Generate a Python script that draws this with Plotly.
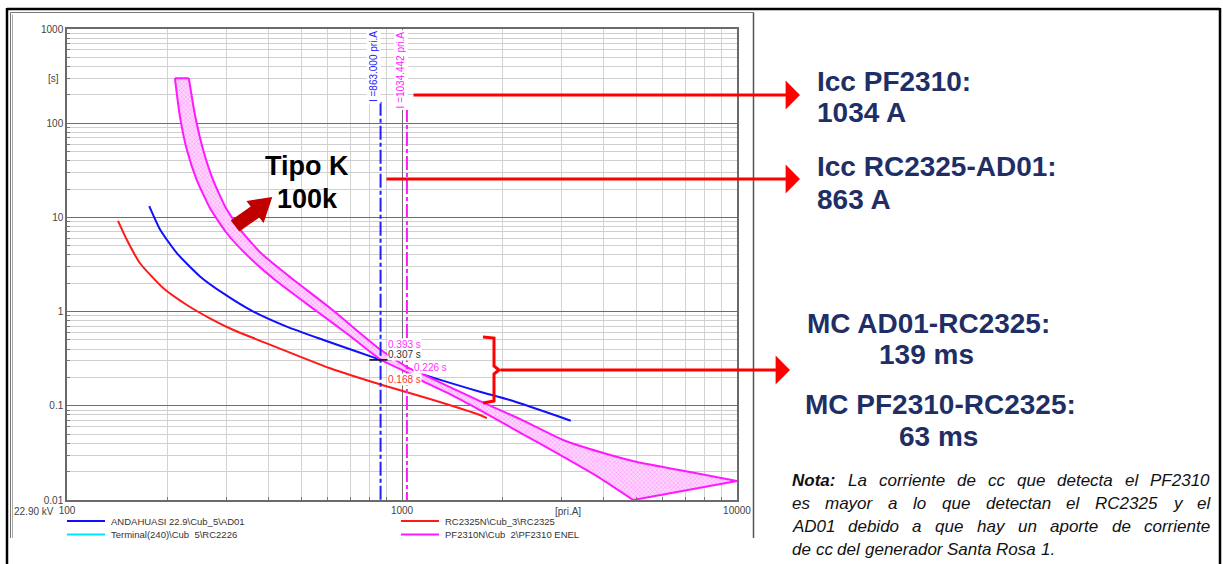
import math
import plotly.graph_objects as go

# ---------------------------------------------------------------------------
# Time-current characteristics (current in primary A, time in s)
# ---------------------------------------------------------------------------
ad01_I = [176, 190, 213, 250, 293, 360, 453, 583, 863, 1212, 1709, 2100, 3190]
ad01_t = [13.2, 7.35, 4.16, 2.35, 1.56, 1.0, 0.692, 0.50, 0.307, 0.204, 0.141, 0.115, 0.0695]

rc2325_I = [142, 151, 165, 194, 228, 267, 314, 368, 610, 863, 1212, 1709, 1793]
rc2325_t = [9.2, 5.75, 3.28, 1.77, 1.175, 0.849, 0.638, 0.508, 0.25, 0.168, 0.118, 0.0798, 0.074]

# PF2310 fuse, Tipo K 100k: total clearing curve and minimum melting curve
pf_tc_I = [231, 241, 255, 273, 298, 333, 382, 463, 610, 863, 1035, 1132, 1390, 1709, 2250, 3025, 3900, 5030, 7240, 10000]
pf_tc_t = [300, 122, 51.9, 24.9, 12.6, 7.0, 4.08, 2.33, 1.09, 0.393, 0.258, 0.223, 0.158, 0.112, 0.0724, 0.0434, 0.0323, 0.0253, 0.0198, 0.0159]
pf_mm_I = [210, 217, 228, 244, 267, 298, 342, 418, 550, 700, 863, 1034, 1132, 1390, 1709, 2250, 2963, 3900, 4900]
pf_mm_t = [300, 122, 51.9, 24.9, 12.6, 7.0, 4.08, 2.165, 1.04, 0.551, 0.31, 0.226, 0.188, 0.133, 0.090, 0.052, 0.0301, 0.0171, 0.01]

# Short-circuit currents seen by each device and the read-off times
icc_rc2325 = 863.000
icc_pf2310 = 1034.442
times_at_icc = [  # (current, time, colour, text)
    (icc_rc2325, 0.393, "#ff33ff", "0.393 s"),
    (icc_rc2325, 0.307, "#333333", "0.307 s"),
    (icc_pf2310, 0.226, "#ff33ff", "0.226 s"),
    (icc_rc2325, 0.168, "#ff3333", "0.168 s"),
]

legend_items = [  # (name, colour, column, row)
    ("ANDAHUASI 22.9\\Cub_5\\AD01", "#1010ff", 0, 0),
    ("Terminal(240)\\Cub\u00a0\u00a05\\RC2226", "#00e5ff", 0, 1),
    ("RC2325N\\Cub_3\\RC2325", "#ff1a1a", 1, 0),
    ("PF2310N\\Cub\u00a0\u00a02\\PF2310 ENEL", "#ff19ff", 1, 1),
]

x_ticks = [100, 1000, 10000]
y_ticks = [0.01, 0.1, 1, 10, 100, 1000]
y_ticktext = ["0.01", "0.1", "1", "10", "100", "1000"]

# ---------------------------------------------------------------------------
W, H = 1223, 564
X0, X1, Y0, Y1 = 67, 737, 29, 500          # plot area (pixels)


def px(x):
    return (x - X0) / (X1 - X0)


def py(y):
    return (Y1 - y) / (Y1 - Y0)


FONT = "Liberation Sans"
NAVY = "#1f2f66"
FUSE = "#ff19ff"

fig = go.Figure()


def curve(x, y, color, width=2, shape="spline", smoothing=0.6, dash=None):
    fig.add_trace(go.Scatter(x=x, y=y, mode="lines",
                             line=dict(color=color, width=width, shape=shape, smoothing=smoothing, dash=dash),
                             showlegend=False, hoverinfo="skip"))


# relay curves
curve(ad01_I, ad01_t, "#1010ff")
curve(rc2325_I, rc2325_t, "#ff1a1a")

# fuse band: hatched area between the two curves
band_I = pf_tc_I + pf_mm_I[::-1]
band_t = pf_tc_t + pf_mm_t[::-1]
fig.add_trace(go.Scatter(x=band_I, y=band_t, mode="lines", fill="toself",
                         line=dict(width=0, color=FUSE),
                         fillcolor="#ffc8ff",
                         fillpattern=dict(shape="x", size=3, solidity=0.25, fgcolor="#ff7dff",
                                          bgcolor="#ffd6ff", fillmode="replace"),
                         showlegend=False, hoverinfo="skip"))
# band outline: the two curves plus the top and bottom closing segments
curve(pf_tc_I, pf_tc_t, FUSE, smoothing=0.5)
curve(pf_mm_I, pf_mm_t, FUSE, smoothing=0.5)
curve([pf_mm_I[0], pf_tc_I[0]], [pf_mm_t[0], pf_tc_t[0]], FUSE, shape="linear")
curve([pf_tc_I[-1], pf_mm_I[-1]], [pf_tc_t[-1], pf_mm_t[-1]], FUSE, shape="linear")

# short-circuit current markers
curve([icc_rc2325, icc_rc2325], [169, 0.01], "#2020ff", shape="linear", dash="14px,3px,4px,3px")
curve([icc_pf2310, icc_pf2310], [145, 0.01], FUSE, shape="linear", dash="14px,3px,4px,3px")
fig.add_trace(go.Scatter(x=[icc_rc2325], y=[0.307], mode="markers",
                         marker=dict(symbol="line-ew", size=16, line=dict(color="#000000", width=1.5)),
                         showlegend=False, hoverinfo="skip"))

ann = []

# time labels at the current markers
for cur, t, col, txt in times_at_icc:
    ann.append(dict(x=math.log10(cur), y=math.log10(t), xref="x", yref="y", text=txt, showarrow=False,
                    xanchor="left", yanchor="middle", xshift=6, yshift=5,
                    font=dict(family=FONT, size=10, color=col), bgcolor="white", borderpad=0))

# vertical current labels
for cur, col, txt, sh in [(icc_rc2325, "#2020ff", "I =863.000 pri.A", -7),
                          (icc_pf2310, FUSE, "I =1034.442 pri.A", -6)]:
    ann.append(dict(x=math.log10(cur), y=1.0, xref="x", yref="paper", text=txt, showarrow=False,
                    textangle=-90, xanchor="center", yanchor="top", xshift=sh,
                    font=dict(family=FONT, size=10, color=col), bgcolor="white", borderpad=1))

# axis captions
ann += [
    dict(x=px(53), y=py(79), xref="paper", yref="paper", text="[s]", showarrow=False,
         font=dict(family=FONT, size=10, color="#444"), xanchor="center", yanchor="middle"),
    dict(x=px(568), y=py(511), xref="paper", yref="paper", text="[pri.A]", showarrow=False,
         font=dict(family=FONT, size=10, color="#444"), xanchor="center", yanchor="middle"),
    dict(x=px(12), y=py(511), xref="paper", yref="paper", text="22.90 kV", showarrow=False,
         font=dict(family=FONT, size=10, color="#444"), xanchor="left", yanchor="middle"),
]

shapes = []

# legend
for name, col, c, r in legend_items:
    lx = 67 if c == 0 else 401
    ly = 521 if r == 0 else 534.5
    shapes.append(dict(type="line", xref="paper", yref="paper", x0=px(lx), x1=px(lx + 38), y0=py(ly), y1=py(ly),
                       line=dict(color=col, width=2)))
    ann.append(dict(x=px(lx + 42), y=py(ly), xref="paper", yref="paper", text=name, showarrow=False,
                    xanchor="left", yanchor="middle", font=dict(family=FONT, size=9.5, color="#333")))

# fuse type label with block arrow
ann.append(dict(x=px(307), y=py(166), xref="paper", yref="paper", text="<b>Tipo K</b>", showarrow=False,
                xanchor="center", yanchor="middle", font=dict(family=FONT, size=27, color="#000")))
ann.append(dict(x=px(307), y=py(199), xref="paper", yref="paper", text="<b>100k</b>", showarrow=False,
                xanchor="center", yanchor="middle", font=dict(family=FONT, size=27, color="#000")))
arrow_pts = [(230.7, 220.5), (250.7, 206.5), (246.4, 201.0), (272.3, 197.0), (263.6, 223.0), (259.3, 217.5), (239.3, 231.5)]
path = "M " + " L ".join(f"{px(a):.5f},{py(b):.5f}" for a, b in arrow_pts) + " Z"
shapes.append(dict(type="path", xref="paper", yref="paper", path=path, fillcolor="#c00000", line=dict(width=0)))

# bracket
br_pts = [(483, 337), (494, 338), (494, 366), (499, 370), (494, 374), (494, 401), (483, 403)]
path = "M " + " L ".join(f"{px(a):.5f},{py(b):.5f}" for a, b in br_pts)
shapes.append(dict(type="path", xref="paper", yref="paper", path=path, line=dict(color="#ff0000", width=3)))

# red arrows
for x_from, x_to, yy in [(412, 800, 95), (385, 800, 179), (499, 790, 370)]:
    ann.append(dict(x=px(x_to), y=py(yy), xref="paper", yref="paper", ax=x_from - x_to, ay=0,
                    axref="pixel", ayref="pixel", text="", showarrow=True,
                    arrowhead=1, arrowsize=1.6, arrowwidth=3, arrowcolor="#ff0000"))

# right-hand texts
for txt, x, y, anchor in [("Icc PF2310:", 815, 82, "left"), ("1034 A", 815, 113, "left"),
                          ("Icc RC2325-AD01:", 815, 166, "left"), ("863 A", 815, 199, "left"),
                          ("MC AD01-RC2325:", 805, 323, "left"), ("139 ms", 926, 354, "center"),
                          ("MC PF2310-RC2325:", 803, 404, "left"), ("63 ms", 939, 436, "center")]:
    ann.append(dict(x=px(x), y=py(y), xref="paper", yref="paper", text=f"<b>{txt}</b>", showarrow=False,
                    xanchor=anchor, yanchor="middle", font=dict(family=FONT, size=28, color=NAVY)))

# note, justified word by word
REG = {**{c: 556 for c in "abdeghnopqu0123456789"}, "c": 500, "f": 278, "i": 222, "j": 222, "k": 500, "l": 222,
       "m": 833, "r": 333, "s": 500, "t": 278, "v": 500, "w": 722, "x": 500, "y": 500, "z": 500,
       "A": 667, "C": 722, "D": 722, "F": 611, "L": 556, "N": 722, "P": 667, "R": 722, "S": 667,
       " ": 278, ".": 278, ":": 278}
BOLD = {"N": 722, "o": 611, "t": 333, "a": 556, ":": 333}
NS = 17
nota_lines = [
    "Nota: La corriente de cc que detecta el PF2310",
    "es mayor a lo que detectan el RC2325 y el",
    "AD01 debido a que hay un aporte de corriente",
    "de cc del generador Santa Rosa 1.",
]
nota_y = [480, 503, 526, 549]
NL, NR = 791, 1209
for li, (line, yy) in enumerate(zip(nota_lines, nota_y)):
    words = line.split(" ")
    widths = []
    for w in words:
        tab = BOLD if w == "Nota:" else REG
        widths.append(sum(tab.get(ch, 556) for ch in w) * NS / 1000)
    if li < len(nota_lines) - 1:
        gap = (NR - NL - sum(widths)) / (len(words) - 1)
    else:
        gap = REG[" "] * NS / 1000
    x = NL
    for w, wd in zip(words, widths):
        t = f"<b><i>{w}</i></b>" if w == "Nota:" else f"<i>{w}</i>"
        ann.append(dict(x=px(x), y=py(yy), xref="paper", yref="paper", text=t, showarrow=False,
                        xanchor="left", yanchor="middle", borderpad=0,
                        font=dict(family=FONT, size=NS, color="#111")))
        x += wd + gap

# frames
shapes += [
    dict(type="line", xref="paper", yref="paper", x0=px(7), x1=px(1220), y0=py(9), y1=py(9), line=dict(color="#000", width=2.5)),
    dict(type="line", xref="paper", yref="paper", x0=px(7), x1=px(7), y0=py(8), y1=py(570), line=dict(color="#000", width=2.5)),
    dict(type="line", xref="paper", yref="paper", x0=px(1220), x1=px(1220), y0=py(8), y1=py(570), line=dict(color="#000", width=2.5)),
    dict(type="line", xref="paper", yref="paper", x0=px(10.5), x1=px(753.5), y0=py(12.5), y1=py(12.5), line=dict(color="#777", width=1)),
    dict(type="line", xref="paper", yref="paper", x0=px(10.5), x1=px(10.5), y0=py(12.5), y1=py(538), line=dict(color="#777", width=1)),
    dict(type="line", xref="paper", yref="paper", x0=px(12.5), x1=px(12.5), y0=py(14.5), y1=py(538), line=dict(color="#aaa", width=1)),
    dict(type="line", xref="paper", yref="paper", x0=px(753.5), x1=px(753.5), y0=py(12.5), y1=py(538), line=dict(color="#555", width=1.5)),
]

minor_x = [m * 10 ** e for e in (2, 3) for m in range(2, 10)]
minor_y = [m * 10 ** e for e in (-2, -1, 0, 1, 2) for m in range(2, 10)]

fig.update_layout(
    width=W, height=H,
    margin=dict(l=X0, r=W - X1, t=Y0, b=H - Y1),
    paper_bgcolor="white", plot_bgcolor="white",
    font=dict(family=FONT),
    showlegend=False,
    xaxis=dict(type="log", range=[2, 4], tickvals=x_ticks, ticktext=["100", "1000", "10000"],
               showgrid=True, gridcolor="#6e6e6e", gridwidth=1.3,
               minor=dict(tickvals=minor_x, showgrid=True, gridcolor="#d3d3d3", gridwidth=1,
                          ticks="inside", ticklen=3, tickcolor="#777"),
               showline=True, linecolor="#6a6a6a", linewidth=1.5, mirror=True, ticks="",
               tickfont=dict(size=10, color="#444"), zeroline=False),
    yaxis=dict(type="log", range=[-2, 3], tickvals=y_ticks, ticktext=y_ticktext,
               showgrid=True, gridcolor="#6e6e6e", gridwidth=1.3,
               minor=dict(tickvals=minor_y, showgrid=True, gridcolor="#cfcfcf", gridwidth=1,
                          ticks="inside", ticklen=3, tickcolor="#777"),
               showline=True, linecolor="#6a6a6a", linewidth=1.5, mirror=True, ticks="",
               tickfont=dict(size=10, color="#444"), zeroline=False),
    annotations=ann,
    shapes=shapes,
)

fig.write_html("out.html")
